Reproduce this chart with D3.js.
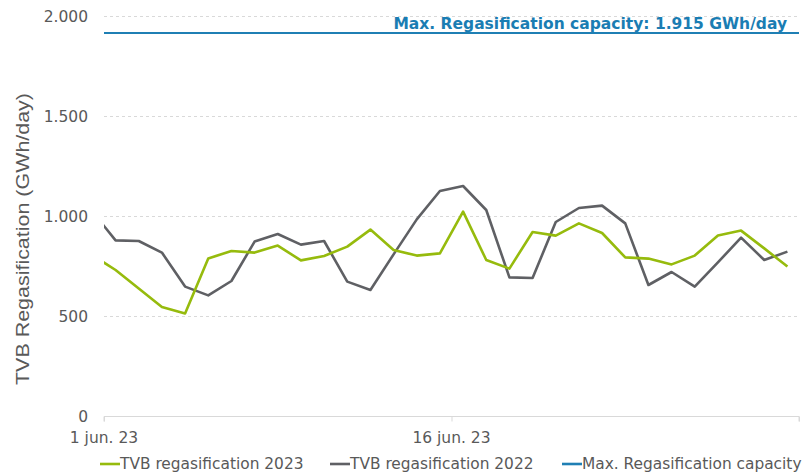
<!DOCTYPE html>
<html lang="en">
<head>
<meta charset="UTF-8" />
<title>TVB regasification</title>
<script src="https://cdn.jsdelivr.net/npm/d3@7"></script>
<style>
  body { margin: 0; background: #fff; }
  text { font-family: "DejaVu Sans", Verdana, sans-serif; fill: #595959; }
</style>
</head>
<body>
<div id="chart"></div>
<script>
// days (31 may = leading point, clipped by the plot edge)
var days = ["2023-05-31","2023-06-01","2023-06-02","2023-06-03","2023-06-04","2023-06-05","2023-06-06",
  "2023-06-07","2023-06-08","2023-06-09","2023-06-10","2023-06-11","2023-06-12","2023-06-13",
  "2023-06-14","2023-06-15","2023-06-16","2023-06-17","2023-06-18","2023-06-19","2023-06-20",
  "2023-06-21","2023-06-22","2023-06-23","2023-06-24","2023-06-25","2023-06-26","2023-06-27",
  "2023-06-28","2023-06-29","2023-06-30"];

var regas2023 = [804, 730, 638, 545, 513, 788, 825, 817, 852, 778, 800, 847, 932, 830, 802, 813,
  1022, 780, 737, 920, 902, 963, 915, 793, 787, 758, 802, 903, 927, 838, 747];

var regas2022 = [1022, 878, 875, 817, 647, 603, 675, 872, 910, 857, 875, 672, 630, 808, 983, 1125,
  1150, 1030, 693, 690, 970, 1040, 1052, 963, 655, 720, 647, 768, 892, 780, 822];

var maxCapacity = 1915;
var yTicks = [0, 500, 1000, 1500, 2000];
var xTickDays = ["2023-06-01", "2023-06-16"];
var xTickLabels = ["1 jun. 23", "16 jun. 23"];
var legendNames = ["TVB regasification 2023", "TVB regasification 2022", "Max. Regasification capacity"];

var w = 804, h = 473;
var padL = 104, padR = 799, padT = 16, padB = 416;

var parse = d3.timeParse("%Y-%m-%d");
// points sit in the middle of each day
var mid = function(s) { return d3.timeHour.offset(parse(s), 12); };
var fmtDot = function(v) { return d3.format(",")(v).replace(",", "."); };

var svg = d3.select("#chart").append("svg")
  .attr("width", w)
  .attr("height", h);

var xScale = d3.scaleTime()
  .domain([parse("2023-06-01"), parse("2023-07-01")])
  .range([padL, padR]);

var yScale = d3.scaleLinear()
  .domain([0, 2000])
  .range([padB, padT]);

svg.append("clipPath").attr("id", "plot")
  .append("rect")
  .attr("x", padL).attr("y", 0)
  .attr("width", padR - padL).attr("height", h);

// gridlines
svg.append("g").selectAll("line")
  .data(yTicks.filter(function(d) { return d > 0; }))
  .enter().append("line")
  .attr("x1", padL).attr("x2", padR)
  .attr("y1", function(d) { return yScale(d) + 0.5; })
  .attr("y2", function(d) { return yScale(d) + 0.5; })
  .style("stroke", "#d9d9d9")
  .style("stroke-dasharray", "3,3");

// y labels
svg.append("g").selectAll("text")
  .data(yTicks)
  .enter().append("text")
  .attr("x", 88)
  .attr("y", function(d) { return yScale(d) + 6; })
  .attr("text-anchor", "end")
  .style("font-size", "15.5px")
  .text(fmtDot);

// x axis
var xAxis = d3.axisBottom(xScale)
  .tickValues(xTickDays.map(parse).concat([parse("2023-07-01")]))
  .tickSize(5)
  .tickFormat("");
var gx = svg.append("g")
  .attr("transform", "translate(0," + (padB + 0.5) + ")")
  .call(xAxis);
gx.select(".domain").style("stroke", "#d9d9d9").attr("d", "M" + padL + ",5V0H" + padR + "V5");
gx.selectAll(".tick line").style("stroke", "#d9d9d9");

svg.append("g").selectAll("text")
  .data(xTickDays)
  .enter().append("text")
  .attr("x", function(d) { return xScale(parse(d)); })
  .attr("y", 443)
  .attr("text-anchor", "middle")
  .style("font-size", "15.5px")
  .text(function(d, i) { return xTickLabels[i]; });

// y axis title
svg.append("text")
  .attr("transform", "translate(29,239) rotate(-90)")
  .attr("text-anchor", "middle")
  .attr("textLength", 292)
  .attr("lengthAdjust", "spacingAndGlyphs")
  .style("font-family", "'Liberation Sans', Arial, sans-serif")
  .style("font-size", "18px")
  .text("TVB Regasification (GWh/day)");

// max capacity line
svg.append("line")
  .attr("x1", padL).attr("x2", padR)
  .attr("y1", yScale(maxCapacity)).attr("y2", yScale(maxCapacity))
  .style("stroke", "#1f7fb4")
  .style("stroke-width", 2.2);

svg.append("text")
  .attr("x", 787)
  .attr("y", 29)
  .attr("text-anchor", "end")
  .style("font-size", "15.5px")
  .style("font-weight", "bold")
  .style("fill", "#1a7db3")
  .text("Max. Regasification  capacity: " + fmtDot(maxCapacity) + " GWh/day");

// series lines
var line = d3.line()
  .x(function(d) { return xScale(mid(d.day)); })
  .y(function(d) { return yScale(d.v); });

var series = [
  { vals: regas2022, color: "#5f6064" },
  { vals: regas2023, color: "#96bb0d" }
];

series.forEach(function(s) {
  svg.append("path")
    .datum(days.map(function(d, i) { return { day: d, v: s.vals[i] }; }))
    .attr("clip-path", "url(#plot)")
    .attr("d", line)
    .style("fill", "none")
    .style("stroke", s.color)
    .style("stroke-width", 2.6)
    .style("stroke-linejoin", "round");
});

// legend
var legendColors = ["#96bb0d", "#5f6064", "#1f7fb4"];
var legendX = [100, 330, 562];
var lg = svg.append("g").selectAll("g")
  .data(legendNames)
  .enter().append("g")
  .attr("transform", function(d, i) { return "translate(" + legendX[i] + ",469)"; });
lg.append("line")
  .attr("x1", 0).attr("x2", 20)
  .attr("y1", -5).attr("y2", -5)
  .style("stroke", function(d, i) { return legendColors[i]; })
  .style("stroke-width", 2.6);
lg.append("text")
  .attr("x", 20)
  .attr("y", 0)
  .style("font-size", "15.4px")
  .text(function(d) { return d; });
</script>
</body>
</html>
